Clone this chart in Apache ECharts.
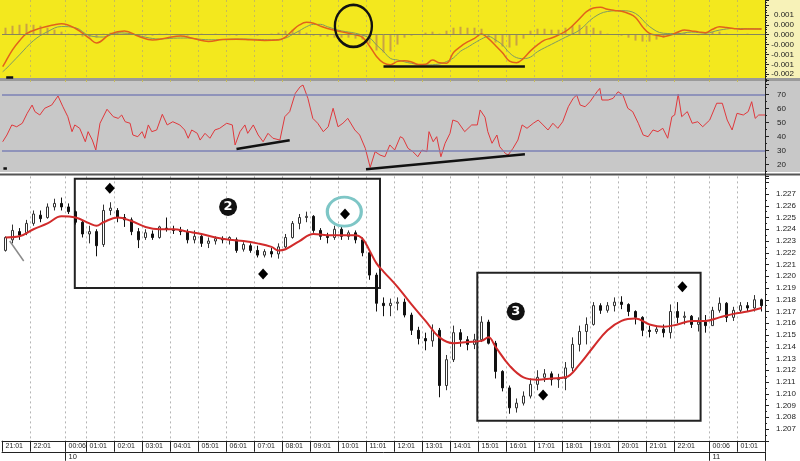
<!DOCTYPE html>
<html><head><meta charset="utf-8">
<script src="https://cdn.jsdelivr.net/npm/echarts/dist/echarts.min.js"></script>
<style>html,body{margin:0;padding:0;background:#fff}#c{width:800px;height:461px}</style>
</head><body><div id="c"></div>
<script>
// ---------- x axis (15-minute bars) ----------
const timeMarkIdx  = [0,4,9,12,16,20,24,28,32,36,40,44,48,52,56,60,64,68,72,76,80,84,88,92,96,101,105];
const timeMarkText = ['21:01','22:01','00:06','01:01','02:01','03:01','04:01','05:01','06:01','07:01','08:01','09:01','10:01','11:01','12:01','13:01','14:01','15:01','16:01','17:01','18:01','19:01','20:01','21:01','22:01','00:06','01:01'];
const dayMarkIdx  = [9, 101];
const dayMarkText = ['10', '11'];

// ---------- price candles [open, close, low, high] ----------
const candles = [
[1.2222,1.2233,1.2221,1.2234],[1.2231,1.2239,1.2228,1.2244],[1.2238,1.2235,1.2231,1.2241],[1.2237,1.2245,1.2235,1.2248],
[1.2245,1.2253,1.2243,1.2256],[1.2252,1.2249,1.2246,1.2256],[1.2250,1.2259,1.2249,1.2262],[1.2259,1.2262,1.2256,1.2266],
[1.2262,1.2259,1.2256,1.2267],[1.2259,1.2255,1.2253,1.2262],[1.2255,1.2246,1.2244,1.2256],[1.2246,1.2236,1.2233,1.2247],
[1.2236,1.2238,1.2228,1.2243],[1.2238,1.2226,1.2217,1.2240],[1.2227,1.2256,1.2225,1.2261],[1.2256,1.2258,1.2252,1.2263],
[1.2256,1.2250,1.2246,1.2258],[1.2250,1.2248,1.2242,1.2253],[1.2248,1.2238,1.2235,1.2250],[1.2238,1.2231,1.2224,1.2241],
[1.2233,1.2237,1.2231,1.2240],[1.2236,1.2233,1.2231,1.2239],[1.2233,1.2242,1.2232,1.2243],[1.2241,1.2240,1.2238,1.2250],
[1.2240,1.2239,1.2236,1.2243],[1.2239,1.2238,1.2235,1.2242],[1.2238,1.2231,1.2228,1.2240],[1.2231,1.2234,1.2228,1.2239],
[1.2234,1.2228,1.2225,1.2235],[1.2228,1.2230,1.2224,1.2233],[1.2230,1.2232,1.2227,1.2234],[1.2232,1.2231,1.2228,1.2234],
[1.2231,1.2233,1.2227,1.2234],[1.2231,1.2222,1.2220,1.2233],[1.2223,1.2227,1.2221,1.2229],[1.2226,1.2222,1.2220,1.2228],
[1.2222,1.2218,1.2216,1.2226],[1.2218,1.2221,1.2216,1.2223],[1.2221,1.2219,1.2216,1.2224],[1.2219,1.2225,1.2215,1.2228],
[1.2225,1.2233,1.2224,1.2236],[1.2233,1.2245,1.2232,1.2247],[1.2245,1.2250,1.2240,1.2253],[1.2250,1.2251,1.2246,1.2255],
[1.2251,1.2239,1.2237,1.2252],[1.2239,1.2234,1.2231,1.2241],[1.2234,1.2233,1.2228,1.2237],[1.2233,1.2240,1.2231,1.2243],
[1.2240,1.2234,1.2231,1.2242],[1.2234,1.2237,1.2231,1.2239],[1.2237,1.2231,1.2228,1.2239],[1.2231,1.2220,1.2217,1.2233],
[1.2220,1.2201,1.2197,1.2221],[1.2201,1.2177,1.2170,1.2203],[1.2177,1.2175,1.2166,1.2182],[1.2175,1.2177,1.2166,1.2181],
[1.2177,1.2178,1.2171,1.2182],[1.2178,1.2167,1.2165,1.2181],[1.2167,1.2154,1.2150,1.2169],[1.2154,1.2147,1.2142,1.2157],
[1.2147,1.2145,1.2137,1.2152],[1.2145,1.2154,1.2140,1.2159],[1.2154,1.2107,1.2097,1.2156],[1.2107,1.2129,1.2103,1.2133],
[1.2129,1.2152,1.2127,1.2158],[1.2152,1.2146,1.2140,1.2155],[1.2146,1.2142,1.2137,1.2149],[1.2142,1.2146,1.2138,1.2151],
[1.2146,1.2161,1.2144,1.2166],[1.2161,1.2143,1.2142,1.2163],[1.2143,1.2119,1.2113,1.2145],[1.2119,1.2105,1.2102,1.2120],
[1.2105,1.2088,1.2083,1.2107],[1.2088,1.2092,1.2084,1.2096],[1.2092,1.2098,1.2090,1.2102],[1.2098,1.2108,1.2096,1.2113],
[1.2108,1.2114,1.2103,1.2120],[1.2114,1.2117,1.2110,1.2121],[1.2117,1.2112,1.2107,1.2119],[1.2112,1.2113,1.2105,1.2117],
[1.2113,1.2122,1.2103,1.2127],[1.2122,1.2142,1.2119,1.2148],[1.2142,1.2153,1.2136,1.2158],[1.2153,1.2159,1.2142,1.2165],
[1.2159,1.2175,1.2158,1.2178],[1.2175,1.2171,1.2168,1.2177],[1.2171,1.2175,1.2169,1.2178],[1.2175,1.2178,1.2170,1.2182],
[1.2178,1.2176,1.2172,1.2183],[1.2176,1.2170,1.2166,1.2177],[1.2170,1.2165,1.2159,1.2171],[1.2165,1.2154,1.2149,1.2166],
[1.2154,1.2153,1.2148,1.2158],[1.2153,1.2155,1.2151,1.2158],[1.2155,1.2152,1.2148,1.2159],[1.2152,1.2170,1.2147,1.2176],
[1.2170,1.2165,1.2160,1.2178],[1.2165,1.2166,1.2159,1.2170],[1.2166,1.2159,1.2156,1.2167],[1.2159,1.2161,1.2153,1.2165],
[1.2161,1.2158,1.2152,1.2167],[1.2158,1.2171,1.2158,1.2174],[1.2171,1.2177,1.2169,1.2182],[1.2177,1.2165,1.2161,1.2178],
[1.2165,1.2171,1.2162,1.2174],[1.2171,1.2175,1.2169,1.2178],[1.2175,1.2173,1.2170,1.2178],[1.2173,1.2180,1.2170,1.2184],
[1.2180,1.2175,1.2170,1.2181]
];

// ---------- moving average [bar, price] ----------
const maPts = [[0,1.2233],[2,1.2234],[4,1.2240],[6,1.2245],[8,1.2251],[10,1.2250],[12,1.2245],[13,1.2243],[14,1.2246],[16,1.2250],
[18,1.2247],[20,1.2242],[22,1.2240],[24,1.2240],[26,1.2238],[28,1.2236],[30,1.2233],[32,1.2231],[34,1.2230],[36,1.2228],
[38,1.2225],[39,1.2222],[40,1.2223],[42,1.2230],[44,1.2236],[46,1.2235],[48,1.2235],[50,1.2235],[51,1.2232],[52,1.2222],
[53,1.2211],[54,1.2204],[56,1.2191],[58,1.2176],[60,1.2162],[62,1.2148],[64,1.2143],[66,1.2144],[68,1.2145],[69,1.2148],
[70,1.2140],[72,1.2124],[74,1.2114],[76,1.2112],[78,1.2113],[80,1.2114],[82,1.2125],[84,1.2140],[86,1.2154],[88,1.2162],
[90,1.2164],[92,1.2159],[94,1.2157],[96,1.2159],[98,1.2162],[100,1.2162],[102,1.2165],[104,1.2168],[106,1.2170],[108,1.2173]];

// ---------- MACD (values in 1e-4) ----------
const macdPts = [[-0.4,-16.2],[0,-13.7],[1,-7.7],[2,-3.1],[3,0.5],[5,3.3],[7,5.0],[8,5.5],[10,3.1],[12,-1.9],[13,-4.2],[15,0.4],[17,1.9],
[19,-0.8],[21,-2.7],[23,-1.7],[25,-0.7],[27,-2.1],[29,-3.4],[31,-2.5],[33,-2.3],[35,-2.6],[37,-2.9],[39,-2.7],[40,-1.2],[41,2.1],
[42,4.9],[43,6.2],[44,5.8],[45,4.3],[46,3.1],[48,1.4],[50,-0.1],[51,-1.4],[52,-5.7],[53,-11.0],[54,-14.3],[55,-15.2],[56,-13.5],
[57,-13.2],[58,-13.8],[59,-15.1],[60,-15.0],[61,-12.8],[62,-14.2],[63,-14.4],[64,-9.0],[65,-6.0],[66,-3.7],[67,-1.9],[68,0.3],
[69,-2.0],[70,-5.5],[71,-9.2],[72,-13.4],[73,-14.2],[74,-12.0],[75,-8.2],[76,-5.2],[77,-2.8],[78,-1.7],[79,-0.2],[80,1.6],[81,4.5],
[82,8.0],[83,11.6],[84,13.5],[85,13.8],[86,12.8],[87,12.2],[88,11.8],[89,10.7],[90,8.7],[91,4.0],[92,0.6],[93,-0.3],[94,-1.0],
[95,-0.2],[96,1.2],[97,2.4],[98,1.9],[99,1.4],[100,1.0],[101,2.7],[102,4.0],[103,3.6],[104,3.1],[105,2.7],[106,2.9],[108,2.9]];
const signalPts = [[-0.4,-18.7],[0,-17.5],[2,-10.2],[4,-3.0],[6,1.5],[8,4.1],[10,3.5],[12,-0.5],[14,-1.2],[16,0.9],[18,0.4],[20,-1.3],
[22,-2.2],[24,-1.8],[26,-1.7],[28,-2.4],[30,-2.6],[32,-2.3],[34,-2.2],[36,-2.4],[38,-2.6],[40,-1.7],[41,0.1],[42,2.0],[43,4.0],
[44,5.2],[45,5.2],[46,4.0],[48,1.9],[50,0.7],[52,-1.7],[53,-5.2],[54,-8.5],[55,-12.0],[56,-12.8],[58,-14.5],[60,-15.3],[62,-14.8],
[63,-13.6],[64,-11.7],[65,-8.4],[66,-6.4],[67,-4.2],[68,-2.2],[69,-0.9],[70,-2.7],[71,-5.2],[72,-9.2],[73,-11.6],[74,-12.1],
[75,-11.3],[76,-8.6],[78,-4.9],[80,-1.3],[82,2.3],[84,8.6],[86,11.7],[88,12.1],[90,10.7],[92,4.1],[94,0.7],[96,0.5],[98,1.3],
[100,0.8],[102,2.3],[104,3.1],[106,3.0],[108,2.9]];
const histVals = [3.5,4.5,5,5.5,5,4.5,3.5,2.5,1.5,0.5,
-0.5,-1,-1.5,-1.5,0.5,1,1,0.5,0.3,-0.5,
-0.5,-0.5,0.5,0.5,0.3,-0.3,-0.5,0.3,0.5,0.3,
0.5,0.3,-0.3,-0.5,0.3,-0.3,-0.5,0.3,0.5,1,
2,2.5,2,1,-0.5,-1,-1,-1.5,-1.5,-1.5,
-2,-2.5,-4.5,-8,-9,-8.5,-5,-1.5,-0.5,0.3,
1,1.5,0.5,2,3.5,4,3.5,3.5,3,-1.5,
-4,-6,-6.5,-5.5,-2,2,3,3,2.5,2.5,
3.5,4.5,5,4.5,3.5,2,0.5,0.3,-0.5,-1.5,
-3,-3.5,-3.5,-2.5,-1.5,0.5,1.5,1,0.3,-0.3,
1,1.5,1.5,0.5,0.3,0.3,0.5,0.3,0.3];

// ---------- RSI [bar, value] ----------
const rsiPts = [[-0.4,36.4],[0.2,41.2],[0.9,48.4],[1.6,47.1],[2.4,49.6],[3.1,56.7],[3.8,62.6],[4.2,57.9],[4.9,55.5],[5.6,60.3],
[6.6,62.6],[7.5,69.1],[8.2,61.4],[8.9,54.3],[9.5,43.6],[9.9,48.4],[10.6,46.0],[11.4,36.4],[11.8,43.6],[12.4,37.6],[12.9,30.5],
[13.5,49.6],[14.5,59.6],[15.4,54.3],[16.1,53.1],[16.6,55.5],[17.1,50.7],[17.8,49.6],[18.2,41.2],[18.9,40.0],[19.5,43.6],
[19.9,38.9],[20.4,48.4],[20.9,43.6],[21.6,44.8],[22.4,56.0],[23.1,48.4],[23.9,50.7],[24.9,48.4],[25.6,44.8],[26.1,38.9],
[26.6,44.8],[27.4,42.4],[27.8,37.6],[28.5,42.4],[29.2,38.9],[29.9,44.8],[30.6,46.0],[31.6,49.6],[32.4,48.4],[32.8,34.1],
[33.5,43.6],[34.2,48.4],[34.6,42.4],[35.4,48.4],[36.1,41.2],[36.8,36.4],[37.5,42.4],[38.2,38.9],[39.2,37.6],[39.9,54.3],
[40.6,57.9],[41.4,71.0],[42.1,75.7],[42.5,76.9],[43.2,67.4],[43.9,53.1],[44.6,49.6],[45.4,43.6],[46.1,47.1],[46.8,60.3],
[47.5,47.1],[48.2,49.6],[48.9,53.1],[49.9,44.8],[50.6,41.2],[51.4,31.7],[52.1,18.1],[52.8,29.3],[53.5,26.9],[54.2,25.7],
[54.9,34.1],[55.6,30.5],[56.4,40.0],[56.8,38.9],[57.5,31.7],[58.2,29.3],[58.9,25.7],[59.5,30.5],[60.2,29.3],[60.5,43.6],
[61.1,36.4],[61.6,40.0],[62.2,25.7],[62.8,35.3],[63.5,42.4],[63.9,51.9],[64.6,50.7],[65.6,43.6],[66.6,48.4],[67.4,48.4],
[67.8,59.1],[68.5,53.9],[68.9,43.6],[69.5,35.3],[70.2,41.2],[70.6,32.9],[71.4,28.1],[71.8,26.9],[72.5,31.7],[73.2,37.6],
[73.8,48.4],[74.5,46.0],[75.4,49.6],[76.1,51.9],[76.8,48.4],[77.5,44.8],[78.2,49.6],[78.9,46.0],[79.6,50.7],[80.4,61.4],
[81.1,67.4],[81.6,69.8],[82.1,62.6],[82.8,61.4],[83.5,65.0],[84.5,72.1],[84.9,74.5],[85.2,66.2],[86.1,66.2],[86.8,67.4],
[87.5,72.1],[88.2,69.8],[88.9,60.3],[89.6,57.9],[90.4,49.6],[91.1,41.2],[91.8,40.0],[92.5,44.8],[93.2,43.6],[93.9,46.0],
[94.6,38.9],[95.2,54.3],[95.6,55.5],[96.1,70.5],[96.6,54.3],[97.4,57.9],[98.1,49.6],[98.9,50.7],[99.6,47.1],[100.6,51.9],
[101.6,63.9],[102.4,63.9],[103.1,51.9],[103.8,44.8],[104.5,56.7],[105.4,55.5],[106.1,57.9],[106.6,65.0],[107.1,53.1],
[107.6,55.5],[108.1,55.5],[108.5,55.5]];

// ---------- tick labels ----------
const priceTickText = ['1.207','1.208','1.209','1.210','1.211','1.212','1.213','1.214','1.215','1.216','1.217','1.218','1.219','1.220','1.221','1.222','1.223','1.224','1.225','1.226','1.227'];
const macdTickVals = [0.001,0.0005,0,-0.0005,-0.001,-0.0015,-0.002];
const macdTickText = ['0.001','0.000','0.000','-0.000','-0.001','-0.001','-0.002'];
const rsiTickText = ['70','60','50','40','30','20'];
const rsiBands = [70, 30];

// ---------- annotations (bar, value) ----------
const box2 = [[9.9,1.2283],[53.5,1.2190]];
const box3 = [[67.4,1.2203],[99.3,1.2077]];
const diamonds = [[14.9,1.2275],[36.8,1.2202],[48.5,1.2253],[76.8,1.2099],[96.7,1.2191]];
const ring = [48.4,1.2255];
const labels = [{t:'2', at:[31.8,1.2259]},{t:'3', at:[72.9,1.2170]}];
const greyLine = [[0.6,1.2230],[2.6,1.2213]];
const macdRing = [49.7,4.4];
const macdLine = [[54.0,-16.2],[74.2,-16.2]];
const macdDash = [[0.1,-21.5],[1.1,-21.5]];
const rsiLineA = [[33.0,31.2],[40.6,37.4]];
const rsiLineB = [[51.5,16.7],[74.2,27.4]];
const rsiDash = [[-0.3,17.4],[0.2,17.4]];

const P = v => v / 10000;
const cats = candles.map((_, i) => 'b' + i);
const markMap = new Map(timeMarkIdx.map((k, j) => [k, timeMarkText[j]]));
const dayMap = new Map(dayMarkIdx.map((k, j) => [k, dayMarkText[j]]));
const FONT = 'Liberation Sans';
const N = candles.length;

const chart = echarts.init(document.getElementById('c'), null, {width: 800, height: 461});
const gridBase = {left: 2, right: 35, containLabel: false, outerBoundsMode: 'none'};
const lineSeg = (pts, color, width) => [{coord: pts[0], lineStyle: {color, width, type: 'solid'}}, {coord: pts[1]}];
const gridMark = i => i > 0 && markMap.has(i);
const yAxisCommon = {
  position: 'right',
  axisLine: {show: true, onZero: false, lineStyle: {color: '#222'}},
  axisTick: {show: true, length: 4, lineStyle: {color: '#222'}},
  splitLine: {show: false}
};

chart.setOption({
  animation: false,
  backgroundColor: '#ffffff',
  graphic: {elements: [
    {type: 'rect', z: -100, shape: {x: 0, y: 0, width: 766, height: 78}, style: {fill: '#f3e81e'}},
    {type: 'rect', z: -100, shape: {x: 766, y: 0, width: 34, height: 78}, style: {fill: '#f7f2b8'}},
    {type: 'rect', z: -100, shape: {x: 0, y: 78, width: 800, height: 3}, style: {fill: '#9a9a9a'}},
    {type: 'rect', z: -100, shape: {x: 0, y: 81, width: 800, height: 91}, style: {fill: '#c8c8c8'}},
    {type: 'rect', z: -100, shape: {x: 0, y: 173.5, width: 800, height: 2}, style: {fill: '#555555'}}
  ]},
  grid: [
    Object.assign({top: 176.4, height: 264.35}, gridBase),
    Object.assign({top: 0, height: 84.15}, gridBase),
    Object.assign({top: 80.7, height: 98}, gridBase)
  ],
  xAxis: [
    {type: 'category', gridIndex: 0, data: cats, boundaryGap: true, position: 'bottom',
      axisLine: {show: true, onZero: false, lineStyle: {color: '#222', width: 1}},
      axisTick: {show: true, length: 11, interval: i => markMap.has(i), lineStyle: {color: '#222'}},
      axisLabel: {show: true, interval: i => markMap.has(i), formatter: (v, i) => markMap.get(i) || '',
        align: 'left', margin: 2, fontSize: 7, color: '#222', fontFamily: FONT, hideOverlap: false},
      splitLine: {show: true, interval: gridMark, lineStyle: {color: '#b4b4b4', type: [2, 3], width: 1}}},
    {type: 'value', gridIndex: 0, min: -0.5, max: N - 0.5, show: false, axisLine: {onZero: false}},
    {type: 'category', gridIndex: 0, data: cats, boundaryGap: true, position: 'bottom', offset: 11,
      axisLine: {show: true, onZero: false, lineStyle: {color: '#222', width: 1}},
      axisTick: {show: true, length: 9, interval: i => dayMap.has(i), lineStyle: {color: '#222'}},
      axisLabel: {show: true, interval: i => dayMap.has(i), formatter: (v, i) => dayMap.get(i) || '',
        align: 'left', margin: 1, fontSize: 7.5, color: '#222', fontFamily: FONT, hideOverlap: false},
      splitLine: {show: false}},
    {type: 'category', gridIndex: 1, data: cats, boundaryGap: true,
      axisLine: {show: false, onZero: false}, axisTick: {show: false}, axisLabel: {show: false},
      splitLine: {show: true, interval: gridMark, lineStyle: {color: '#c7bc5a', type: [2, 3], width: 1}}},
    {type: 'value', gridIndex: 1, min: -0.5, max: N - 0.5, show: false, axisLine: {onZero: false}},
    {type: 'value', gridIndex: 2, min: -0.5, max: N - 0.5, show: false, axisLine: {onZero: false}}
  ],
  yAxis: [
    Object.assign({type: 'value', gridIndex: 0, min: 1.206, max: 1.2285, interval: 0.001,
      minorTick: {show: true, splitNumber: 2, length: 2, lineStyle: {color: '#222'}},
      axisLabel: {margin: 11, fontSize: 8, color: '#222', fontFamily: FONT,
        formatter: v => { const s = v.toFixed(3); return priceTickText.includes(s) ? s : ''; }}}, yAxisCommon),
    Object.assign({type: 'value', gridIndex: 1, min: -0.0025, max: 0.00175, interval: 0.0005,
      minorTick: {show: true, splitNumber: 4, length: 2, lineStyle: {color: '#222'}},
      axisLabel: {margin: 29, align: 'right', fontSize: 8, color: '#222', fontFamily: FONT,
        formatter: v => { const j = macdTickVals.findIndex(t => Math.abs(t - v) < 1e-7); return j >= 0 ? macdTickText[j] : ''; }}}, yAxisCommon),
    Object.assign({type: 'value', gridIndex: 2, min: 10, max: 80, interval: 10,
      minorTick: {show: true, splitNumber: 2, length: 2, lineStyle: {color: '#222'}},
      axisLabel: {margin: 12, fontSize: 8, color: '#222', fontFamily: FONT,
        formatter: v => { const s = String(Math.round(v)); return rsiTickText.includes(s) ? s : ''; }}}, yAxisCommon)
  ],
  series: [
    {type: 'candlestick', xAxisIndex: 0, yAxisIndex: 0, data: candles, barWidth: 3,
      itemStyle: {color: '#ffffff', color0: '#111111', borderColor: '#333333', borderColor0: '#111111', borderWidth: 1}},
    {type: 'line', xAxisIndex: 1, yAxisIndex: 0, data: maPts, smooth: 0.4, symbol: 'none',
      lineStyle: {color: '#d12b2b', width: 2}, z: 3,
      markArea: {silent: true, itemStyle: {color: 'rgba(0,0,0,0)', borderColor: '#222', borderWidth: 2},
        data: [[{coord: box2[0]}, {coord: box2[1]}], [{coord: box3[0]}, {coord: box3[1]}]]},
      markLine: {silent: true, symbol: ['none', 'none'], label: {show: false}, data: [lineSeg(greyLine, '#8a8a8a', 1.5)]},
      markPoint: {silent: true, data: [
        ...diamonds.map(d => ({coord: d, symbol: 'diamond', symbolSize: [10, 11], itemStyle: {color: '#000'}, label: {show: false}})),
        {coord: ring, symbol: 'circle', symbolSize: [34, 29], itemStyle: {color: 'rgba(0,0,0,0)', borderColor: '#7ec6c6', borderWidth: 3}, label: {show: false}},
        ...labels.map(l => ({coord: l.at, symbol: 'circle', symbolSize: 18, itemStyle: {color: '#111'},
          label: {show: true, position: 'inside', formatter: l.t, color: '#fff', fontSize: 13, fontWeight: 'bold', fontFamily: 'DejaVu Sans'}}))
      ]}},
    {type: 'bar', xAxisIndex: 3, yAxisIndex: 1, data: histVals.map(P), barWidth: 2,
      itemStyle: {color: '#c9a244'}},
    {type: 'line', xAxisIndex: 4, yAxisIndex: 1, data: signalPts.map(p => [p[0], P(p[1])]), smooth: 0.4, symbol: 'none',
      lineStyle: {color: '#7d9a64', width: 1}},
    {type: 'line', xAxisIndex: 4, yAxisIndex: 1, data: macdPts.map(p => [p[0], P(p[1])]), smooth: 0.4, symbol: 'none',
      lineStyle: {color: '#e2621a', width: 1.5},
      markLine: {silent: true, symbol: ['none', 'none'], label: {show: false}, data: [
        {yAxis: 0, lineStyle: {color: '#85855c', width: 1, type: 'solid'}},
        lineSeg(macdLine.map(p => [p[0], P(p[1])]), '#111', 2.5),
        lineSeg(macdDash.map(p => [p[0], P(p[1])]), '#111', 2.5)
      ]},
      markPoint: {silent: true, data: [
        {coord: [macdRing[0], P(macdRing[1])], symbol: 'circle', symbolSize: [37, 42],
          itemStyle: {color: 'rgba(0,0,0,0)', borderColor: '#111', borderWidth: 2.5}, label: {show: false}}]}},
    {type: 'line', xAxisIndex: 5, yAxisIndex: 2, data: rsiPts, symbol: 'none',
      lineStyle: {color: '#e0383c', width: 1},
      markLine: {silent: true, symbol: ['none', 'none'], label: {show: false}, data: [
        ...rsiBands.map(b => ({yAxis: b, lineStyle: {color: '#7c82b6', width: 1.5, type: 'solid'}})),
        lineSeg(rsiLineA, '#111', 2.5),
        lineSeg(rsiLineB, '#111', 2.5),
        lineSeg(rsiDash, '#111', 2.5)
      ]}}
  ]
});
</script>
</body></html>
